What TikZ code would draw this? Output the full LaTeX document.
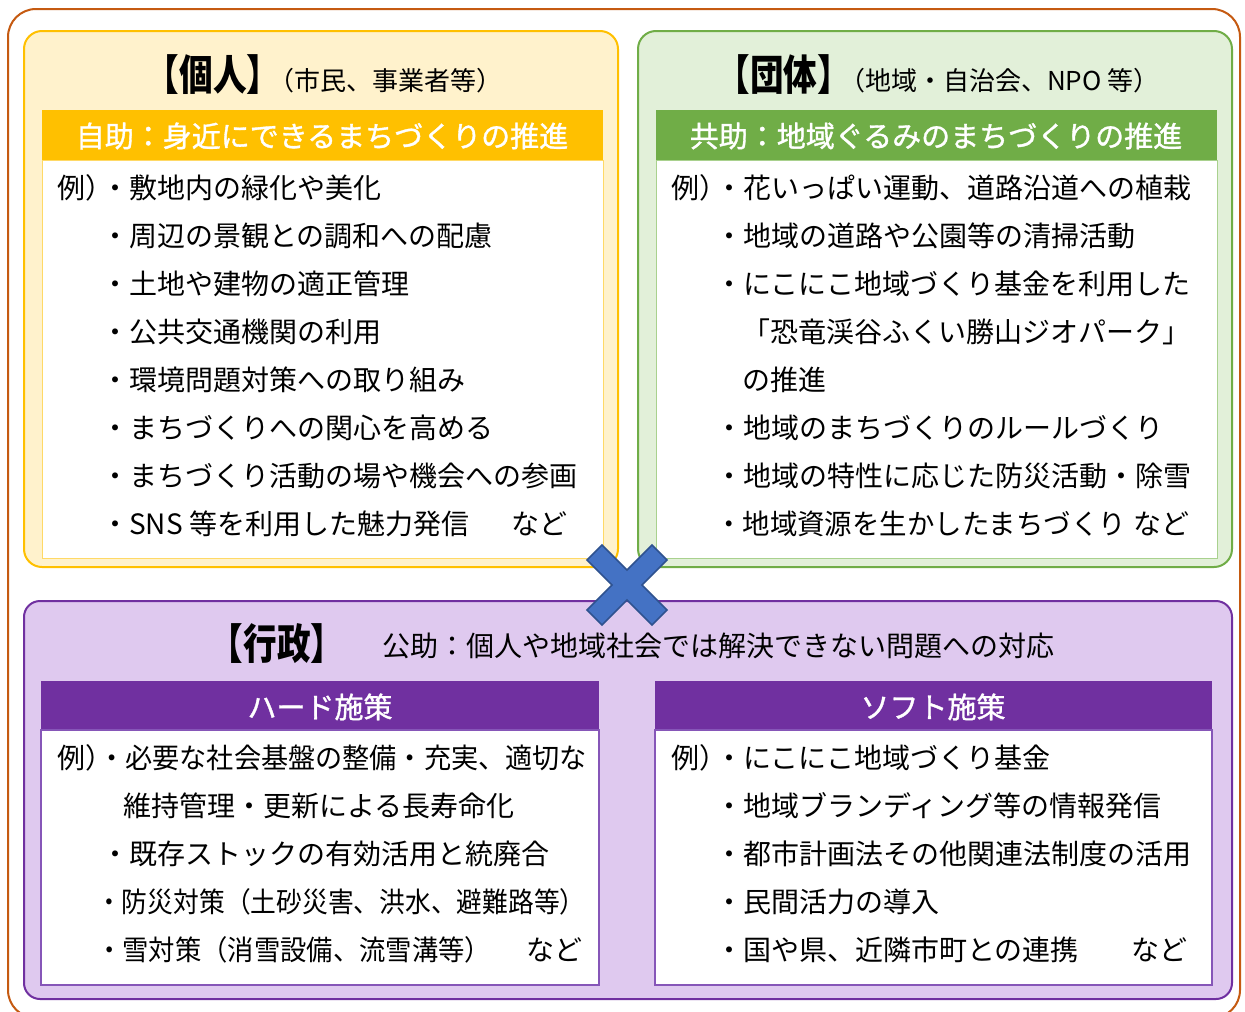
\documentclass[tikz,border=0pt]{standalone}
\usepackage{fontspec}
\setmainfont{Noto Sans CJK JP}
\newfontfamily\hdrfont{Noto Sans CJK JP}[FakeBold=1.2]
\usepackage{graphicx}
\definecolor{frameor}{HTML}{C55A11}
\definecolor{ylfill}{HTML}{FFF2CC}
\definecolor{yldraw}{HTML}{FFC000}
\definecolor{ylline}{HTML}{FFD966}
\definecolor{grfill}{HTML}{E2F0D9}
\definecolor{grdraw}{HTML}{70AD47}
\definecolor{grline}{HTML}{A9D18E}
\definecolor{pufill}{HTML}{DFC9EF}
\definecolor{pudraw}{HTML}{7030A0}
\definecolor{puline}{HTML}{8656B8}
\definecolor{xfill}{HTML}{4472C4}
\definecolor{xdraw}{HTML}{2F528F}
\tikzset{
  body/.style={font=\fontsize{28}{34}\selectfont, anchor=west, inner sep=0pt, text height=24.6pt, text depth=3.4pt},
  bodyE/.style={body, anchor=east},
  hdr/.style={font=\hdrfont\fontsize{29}{34}\selectfont, text=white, inner sep=0pt, text height=25.5pt, text depth=3.5pt},
  big/.style={inner sep=0pt, anchor=base},
}
\newcommand{\bigtitle}[1]{{\fontsize{42}{46}\selectfont\bfseries\scalebox{0.8}[1]{#1}}}
\begin{document}
\begin{tikzpicture}[x=1pt,y=-1pt]
\useasboundingbox (0,0) rectangle (1245,1012);
\fill[white] (0,0) rectangle (1245,1012);
% outer frame
\begin{scope}
\clip (0,0) rectangle (1245,1012);
\draw[frameor, line width=2pt, rounded corners=28pt] (8,9) rectangle (1240,1018);
\end{scope}
% individual box
\draw[yldraw, fill=ylfill, line width=2pt, rounded corners=18pt] (24,31) rectangle (618,567);
\fill[yldraw] (42,110) rectangle (603,160);
\draw[ylline, fill=white, line width=1pt] (42,160) rectangle (603,558);
% group box
\draw[grdraw, fill=grfill, line width=2pt, rounded corners=18pt] (638,31) rectangle (1232,567);
\fill[grdraw] (656,110) rectangle (1217,160);
\draw[grline, fill=white, line width=1pt] (656,160) rectangle (1217,558);
% administration box
\draw[pudraw, fill=pufill, line width=2pt, rounded corners=16pt] (24,601) rectangle (1232,999);
\fill[pudraw] (41,681) rectangle (599,730);
\draw[puline, fill=white, line width=1.2pt] (41,730) rectangle (599,985);
\fill[pudraw] (655,681) rectangle (1212,730);
\draw[puline, fill=white, line width=1.2pt] (655,730) rectangle (1212,985);

% titles
\node[big] (t1) at (324,90) {\bigtitle{【個人】}\hspace{-12pt}{\fontsize{26}{30}\selectfont （市民、事業者等）}};
\node[big] (t2) at (938,90) {\bigtitle{【団体】}\hspace{-12pt}{\fontsize{26}{30}\selectfont （地域・自治会、NPO 等）}};
\node[big] (t3) at (277,659) {\bigtitle{【行政】}};
\node[body] (t3b) at (382,646) {公助：個人や地域社会では解決できない問題への対応};

% headers
\node[hdr] (h1) at (322,136) {自助：身近にできるまちづくりの推進};
\node[hdr] (h2) at (936,136) {共助：地域ぐるみのまちづくりの推進};
\node[hdr] (h3) at (320,707) {ハード施策};
\node[hdr] (h4) at (933,707) {ソフト施策};

% individual lines
\node[body] (a0) at (57,188) {例）};
\node[body] (a1) at (101,188) {・敷地内の緑化や美化};
\node[body] (a2) at (101,236) {・周辺の景観との調和への配慮};
\node[body] (a3) at (101,284) {・土地や建物の適正管理};
\node[body] (a4) at (101,332) {・公共交通機関の利用};
\node[body] (a5) at (101,380) {・環境問題対策への取り組み};
\node[body] (a6) at (101,428) {・まちづくりへの関心を高める};
\node[body] (a7) at (101,476) {・まちづくり活動の場や機会への参画};
\node[body] (a8) at (101,524) {・SNS 等を利用した魅力発信};
\node[bodyE] (a9) at (568,524) {など};

% group lines
\node[body] (b0) at (671,188) {例）};
\node[body] (b1) at (715,188) {・花いっぱい運動、道路沿道への植栽};
\node[body] (b2) at (715,236) {・地域の道路や公園等の清掃活動};
\node[body] (b3) at (715,284) {・にこにこ地域づくり基金を利用した};
\node[body] (b4) at (742,332) {「恐竜渓谷ふくい勝山ジオパーク」};
\node[body] (b5) at (742,380) {の推進};
\node[body] (b6) at (715,428) {・地域のまちづくりのルールづくり};
\node[body] (b7) at (715,476) {・地域の特性に応じた防災活動・除雪};
\node[body] (b8) at (715,524) {\scalebox{0.98}[1]{・地域資源を生かしたまちづくり}};
\node[bodyE] (b9) at (1190,524) {など};

% hard measures
\node[body] (c0) at (57,758) {例）};
\node[body] (c1) at (98,758) {\scalebox{0.97}[1]{・必要な社会基盤の整備・充実、適切な}};
\node[body] (c2) at (123,806) {維持管理・更新による長寿命化};
\node[body] (c3) at (101,854) {・既存ストックの有効活用と統廃合};
\node[body] (c4) at (96,902) {\scalebox{0.92}[1]{・防災対策（土砂災害、洪水、避難路等）}};
\node[body] (c5) at (96,950) {\scalebox{0.94}[1]{・雪対策（消雪設備、流雪溝等）}};
\node[bodyE] (c6) at (583,950) {など};

% soft measures
\node[body] (d0) at (671,758) {例）};
\node[body] (d1) at (715,758) {・にこにこ地域づくり基金};
\node[body] (d2) at (715,806) {・地域ブランディング等の情報発信};
\node[body] (d3) at (715,854) {・都市計画法その他関連法制度の活用};
\node[body] (d4) at (715,902) {・民間活力の導入};
\node[body] (d5) at (715,950) {・国や県、近隣市町との連携};
\node[bodyE] (d6) at (1188,950) {など};

% cross
\draw[xdraw, fill=xfill, line width=1.5pt, line join=miter]
  (627,570) -- (652,545) -- (667,560) -- (642,585) -- (667,610) -- (652,625)
  -- (627,600) -- (602,625) -- (587,610) -- (612,585) -- (587,560) -- (602,545) -- cycle;
\end{tikzpicture}
\end{document}
